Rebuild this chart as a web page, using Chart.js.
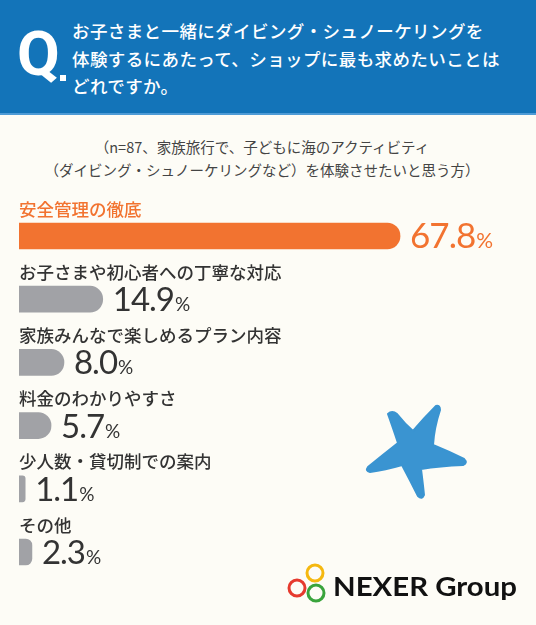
<!DOCTYPE html>
<html>
<head>
<meta charset="utf-8">
<script src="https://cdn.jsdelivr.net/npm/chart.js@4.4.0/dist/chart.umd.min.js"></script>
<style>
  html, body { margin: 0; padding: 0; }
  body { width: 536px; height: 625px; background: #fdfcf6; position: relative; overflow: hidden;
         font-family: "Noto Sans CJK JP", "Noto Sans", sans-serif; }
  #head { position: absolute; left: 0; top: 0; width: 536px; height: 113px; background: #1374b9;
          border-bottom: 2px solid #4e9bd6; }
  #q { position: absolute; left: 17px; top: 14px; font-family: "Liberation Sans Narrow", "Roboto", sans-serif;
       font-weight: bold; font-size: 62px; line-height: 80px; color: #fff; }
  #qdot { position: absolute; left: 60px; top: 75px; width: 6px; height: 6px; background: #fff; }
  #qtext { position: absolute; left: 72px; top: 17px; color: #fff; font-size: 17.5px; font-weight: 500;
           line-height: 27.5px; letter-spacing: 0.4px; white-space: nowrap; }
  #sub { position: absolute; left: 0; top: 135px; width: 524px; text-align: center; color: #444;
         font-size: 14.5px; line-height: 23px; white-space: nowrap; }
  #chart { position: absolute; left: 0; top: 190px; }
  #deco { position: absolute; left: 0; top: 0; }
</style>
</head>
<body>
<div id="head">
  <div id="q">Q</div>
  <div id="qdot"></div>
  <div id="qtext">お子さまと一緒にダイビング・シュノーケリングを<br>体験するにあたって、ショップに最も求めたいことは<br>どれですか。</div>
</div>
<div id="sub">（n=87、家族旅行で、子どもに海のアクティビティ<br>（ダイビング・シュノーケリングなど）を体験させたいと思う方）</div>
<canvas id="chart" width="536" height="400"></canvas>
<svg id="deco" width="536" height="625" viewBox="0 0 536 625">
  <path d="M398,443 Q392,425 388,414 Q392,410 397,414 Q405,424 413,431 Q424,418 436,406 Q440,405 440,410
           Q434,428 433,445 Q450,452 464,459 Q468,463 463,465 Q440,466 421,469 Q423,485 424,495 Q422,500 418,496
           Q410,480 402,465 Q385,470 370,472 Q365,471 368,467 Q384,454 398,443 Z"
        fill="#3a94d1" stroke="#3a94d1" stroke-width="2" stroke-linejoin="round"/>
  <circle cx="297" cy="588" r="8" fill="none" stroke="#e63a2e" stroke-width="3"/>
  <circle cx="315" cy="573" r="8" fill="none" stroke="#f5b80f" stroke-width="3"/>
  <circle cx="316" cy="593" r="8" fill="none" stroke="#3aa43c" stroke-width="3"/>
  <text x="333" y="596" textLength="184" lengthAdjust="spacingAndGlyphs" font-family="Lato, 'Noto Sans', sans-serif" font-weight="bold" font-size="26" fill="#111">NEXER Group</text>
</svg>
<script>
const categories = ['安全管理の徹底', 'お子さまや初心者への丁寧な対応', '家族みんなで楽しめるプラン内容', '料金のわかりやすさ', '少人数・貸切制での案内', 'その他'];
const values = [67.8, 14.9, 8.0, 5.7, 1.1, 2.3];
const barColors = ['#f27330', '#a1a2a6', '#a1a2a6', '#a1a2a6', '#a1a2a6', '#a1a2a6'];

const labelPlugin = {
  id: 'labels',
  afterDatasetsDraw(chart) {
    const ctx = chart.ctx;
    const meta = chart.getDatasetMeta(0);
    meta.data.forEach((bar, i) => {
      const first = i === 0;
      ctx.save();
      // category above bar
      ctx.font = '500 17.5px "Noto Sans CJK JP"';
      ctx.fillStyle = first ? '#f27330' : '#333';
      ctx.textBaseline = 'middle';
      ctx.textAlign = 'left';
      ctx.fillText(categories[i], chart.chartArea.left, bar.y - 27);
      // value to the right
      const num = values[i].toFixed(1);
      const x = bar.x + 10;
      const y = bar.y + 12;
      ctx.textBaseline = 'alphabetic';
      ctx.fillStyle = first ? '#f27330' : '#333';
      ctx.letterSpacing = '-1px';
      ctx.font = (first ? '400 35px' : '400 33px') + ' Lato, "Noto Sans"';
      ctx.fillText(num, x, y);
      const w = ctx.measureText(num).width;
      ctx.letterSpacing = '0px';
      ctx.font = (first ? '400 21px' : '400 19px') + ' Lato, "Noto Sans"';
      ctx.fillText('%', x + w + 1, y);
      ctx.restore();
    });
  }
};

const chart = new Chart(document.getElementById('chart').getContext('2d'), {
  type: 'bar',
  data: {
    labels: categories,
    datasets: [{
      data: values,
      backgroundColor: barColors,
      borderRadius: 13,
      borderSkipped: 'start',
      barThickness: 26
    }]
  },
  options: {
    indexAxis: 'y',
    responsive: false,
    animation: false,
    layout: { padding: { left: 19, right: 67.4, top: 14.4, bottom: 6.4 } },
    scales: {
      x: { display: false, min: 0, max: 80 },
      y: { display: false }
    },
    plugins: { legend: { display: false }, tooltip: { enabled: false } }
  },
  plugins: [labelPlugin]
});
</script>
</body>
</html>
